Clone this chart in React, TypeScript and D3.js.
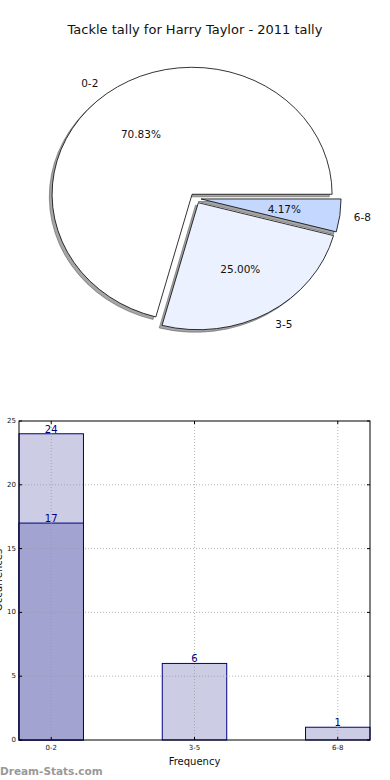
import React from "react";
import * as d3 from "d3";

const pieLabels = ["0-2", "3-5", "6-8"];
const pieValues = [17, 6, 1];
const pieColors = ["#ffffff", "#ebf1fe", "#c3d7ff"];

const barCategories = ["0-2", "3-5", "6-8"];
const totalValues = [24, 6, 1];
const innerValues = [17, 0, 0];
const yTicks = [0, 5, 10, 15, 20, 25];

const title = "Tackle tally for Harry Taylor - 2011 tally";
const xTitle = "Frequency";
const yTitle = "Occurrences";
const watermark = "Dream-Stats.com";

const FONT = "'DejaVu Sans', sans-serif";

export default function App() {
  // pie geometry
  const cx = 195.5, cy = 198.3, rx = 140, ry = 127;
  const explode = 0.04;
  const total = d3.sum(pieValues);
  const pie = d3.pie<number>().sort(null).startAngle(Math.PI / 2).endAngle(Math.PI / 2 - 2 * Math.PI);
  const arcs = pie(pieValues);
  const arcGen = d3.arc<d3.PieArcDatum<number>>().innerRadius(0).outerRadius(1);

  const slices = arcs.map((a, i) => {
    const midD3 = (a.startAngle + a.endAngle) / 2;
    const theta = Math.PI / 2 - midD3;
    const ox = explode * Math.cos(theta) * rx;
    const oy = -explode * Math.sin(theta) * ry;
    const ax = cx + ox, ay = cy + oy;
    return { a, i, theta, ax, ay };
  });

  // bar geometry
  const left = 19, right = 370, top = 421, bottom = 740;
  const x = d3.scaleLinear().domain([-0.225, 2.225]).range([left, right]);
  const y = d3.scaleLinear().domain([0, 25]).range([bottom, top]);
  const bw = 0.45;

  return (
    <svg width={390} height={780} style={{ position: "absolute", left: 0, top: 0, background: "#fff" }} fontFamily={FONT}>
      <text x={195} y={30} textAnchor="middle" dominantBaseline="middle" fontSize={13} fill="#111">{title}</text>

      {slices.map(s => (
        <path key={"sh" + s.i}
          d={arcGen(s.a) || ""}
          transform={`translate(${s.ax - 0.02 * rx},${s.ay + 0.02 * ry}) scale(${rx},${ry})`}
          fill="#4d4d4d" fillOpacity={0.5} stroke="#4d4d4d" strokeOpacity={0.5}
          strokeWidth={1} vectorEffect="non-scaling-stroke" />
      ))}
      {slices.map(s => (
        <path key={"w" + s.i}
          d={arcGen(s.a) || ""}
          transform={`translate(${s.ax},${s.ay}) scale(${rx},${ry})`}
          fill={pieColors[s.i]} stroke="#000" strokeWidth={0.8} vectorEffect="non-scaling-stroke"
          strokeLinejoin="miter" />
      ))}
      {slices.map(s => {
        const c = Math.cos(s.theta), sn = Math.sin(s.theta);
        const lx = s.ax + 1.1 * rx * c, ly = s.ay - 1.1 * ry * sn;
        const px = s.ax + 0.6 * rx * c, py = s.ay - 0.6 * ry * sn;
        const pct = (100 * pieValues[s.i] / total).toFixed(2) + "%";
        return (
          <g key={"l" + s.i} fontSize={10.5} fill="#111">
            <text x={lx} y={ly} textAnchor={c < 0 ? "end" : "start"} dominantBaseline="central">{pieLabels[s.i]}</text>
            <text x={px} y={py} textAnchor="middle" dominantBaseline="central">{pct}</text>
          </g>
        );
      })}

      {totalValues.map((v, i) => (
        <rect key={"t" + i} x={x(i - bw / 2)} y={y(v)} width={x(i + bw / 2) - x(i - bw / 2)} height={y(0) - y(v)}
          fill="#ccccE5" stroke="#000080" strokeWidth={1} />
      ))}
      {innerValues.map((v, i) => v > 0 ? (
        <rect key={"in" + i} x={x(i - bw / 2)} y={y(v)} width={x(i + bw / 2) - x(i - bw / 2)} height={y(0) - y(v)}
          fill="#a3a3d2" stroke="#000080" strokeWidth={1} />
      ) : null)}
      {yTicks.slice(1, -1).map(t => (
        <line key={"gy" + t} x1={left} x2={right} y1={y(t)} y2={y(t)} stroke="#999" strokeWidth={1} strokeDasharray="1,2" opacity={0.7} />
      ))}
      {barCategories.map((c, i) => (
        <line key={"gx" + i} x1={x(i)} x2={x(i)} y1={top} y2={bottom} stroke="#999" strokeWidth={1} strokeDasharray="1,2" opacity={0.7} />
      ))}
      {totalValues.map((v, i) => (
        <text key={"vt" + i} x={x(i)} y={y(v) - 1} textAnchor="middle" fontSize={10} fill="#000080">{v}</text>
      ))}
      {innerValues.map((v, i) => v > 0 ? (
        <text key={"vi" + i} x={x(i)} y={y(v) - 1} textAnchor="middle" fontSize={10} fill="#000080">{v}</text>
      ) : null)}
      <rect x={left} y={top} width={right - left} height={bottom - top} fill="none" stroke="#000" strokeWidth={1} />
      {yTicks.map(t => (
        <g key={"yt" + t}>
          <line x1={left} x2={left + 3} y1={y(t)} y2={y(t)} stroke="#000" />
          <line x1={right} x2={right - 3} y1={y(t)} y2={y(t)} stroke="#000" />
          <text x={left - 3} y={y(t)} textAnchor="end" dominantBaseline="central" fontSize={7} fill="#111">{t}</text>
        </g>
      ))}
      {barCategories.map((c, i) => (
        <g key={"xt" + i}>
          <line x1={x(i)} x2={x(i)} y1={bottom} y2={bottom - 3} stroke="#000" />
          <line x1={x(i)} x2={x(i)} y1={top} y2={top + 3} stroke="#000" />
          <text x={x(i)} y={bottom + 8} textAnchor="middle" dominantBaseline="central" fontSize={7} fill="#111">{c}</text>
        </g>
      ))}
      <text x={x(1)} y={761} textAnchor="middle" dominantBaseline="central" fontSize={10} fill="#111">{xTitle}</text>
      <text transform={`translate(1.5,580) rotate(-90)`} textAnchor="middle" fontSize={10} fill="#111">{yTitle}</text>
      <text x={0} y={775} fontSize={10.5} fontWeight="bold" fill="#999">{watermark}</text>
    </svg>
  );
}
